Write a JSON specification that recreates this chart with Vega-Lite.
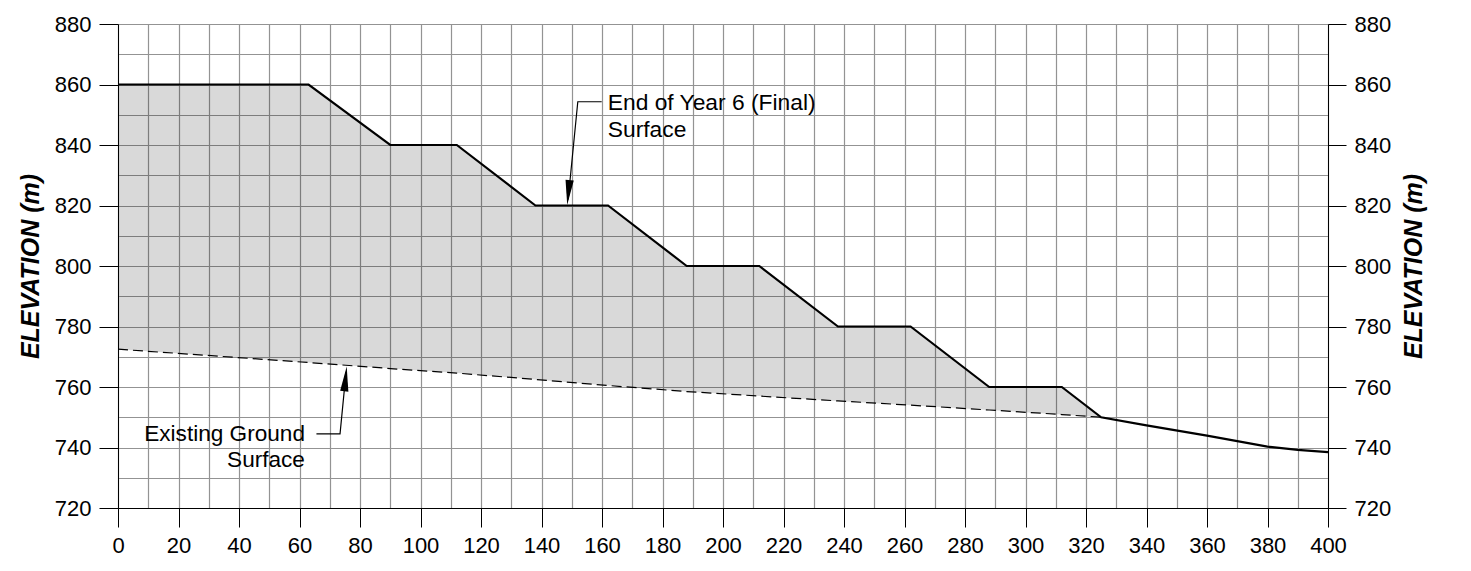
{
  "$schema": "https://vega.github.io/schema/vega-lite/v6.json",
  "width": 1210,
  "height": 484,
  "autosize": {"type": "none"},
  "padding": {"left": 118, "top": 24, "right": 143, "bottom": 63},
  "background": "white",
  "config": {
    "view": {"stroke": null},
    "font": "Liberation Sans",
    "axis": {
      "labelFont": "Liberation Sans",
      "labelFontSize": 22,
      "labelColor": "black",
      "titleFont": "Liberation Sans",
      "titleFontSize": 25,
      "titleFontWeight": "bold",
      "titleFontStyle": "italic",
      "titleColor": "black",
      "domainColor": "black",
      "domainWidth": 1,
      "tickColor": "black",
      "tickWidth": 1,
      "labelFlush": false,
      "labelBound": false,
      "labelOverlap": false
    }
  },
  "datasets": {
    "fill": [
      {"x": 0, "top": 860, "ground": 772.5},
      {"x": 63, "top": 860, "ground": 768.1},
      {"x": 90, "top": 840, "ground": 766.1},
      {"x": 112, "top": 840, "ground": 764.6},
      {"x": 138, "top": 820, "ground": 762.5},
      {"x": 162, "top": 820, "ground": 760.5},
      {"x": 188, "top": 800, "ground": 758.5},
      {"x": 212, "top": 800, "ground": 757.0},
      {"x": 238, "top": 780, "ground": 755.4},
      {"x": 262, "top": 780, "ground": 754.0},
      {"x": 288, "top": 760, "ground": 752.4},
      {"x": 312, "top": 760, "ground": 750.9},
      {"x": 325, "top": 750, "ground": 750.0}
    ],
    "final": [
      {"x": 0, "elev": 860},
      {"x": 63, "elev": 860},
      {"x": 90, "elev": 840},
      {"x": 112, "elev": 840},
      {"x": 138, "elev": 820},
      {"x": 162, "elev": 820},
      {"x": 188, "elev": 800},
      {"x": 212, "elev": 800},
      {"x": 238, "elev": 780},
      {"x": 262, "elev": 780},
      {"x": 288, "elev": 760},
      {"x": 312, "elev": 760},
      {"x": 325, "elev": 750},
      {"x": 340, "elev": 747.3},
      {"x": 360, "elev": 743.9},
      {"x": 380, "elev": 740.3},
      {"x": 390, "elev": 739.2},
      {"x": 400, "elev": 738.5}
    ],
    "leaders": [
      {"id": "final", "k": 1, "x": 159.9, "y": 854.3},
      {"id": "final", "k": 2, "x": 152.0, "y": 854.3},
      {"id": "final", "k": 3, "x": 148.8, "y": 822},
      {"id": "ground", "k": 1, "x": 65.6, "y": 744.5},
      {"id": "ground", "k": 2, "x": 73.4, "y": 744.5},
      {"id": "ground", "k": 3, "x": 75.4, "y": 765}
    ],
    "arrows": [
      {"id": "final", "x": 148.9, "y": 824.3},
      {"id": "ground", "x": 75.2, "y": 762.7}
    ],
    "labels": [
      {"text": "End of Year 6 (Final)", "x": 161.9, "y": 851.6, "side": "left"},
      {"text": "Surface", "x": 161.9, "y": 842.8, "side": "left"},
      {"text": "Existing Ground", "x": 61.8, "y": 742.2, "side": "right"},
      {"text": "Surface", "x": 61.8, "y": 733.6, "side": "right"}
    ]
  },
  "resolve": {"axis": {"y": "independent"}},
  "encoding": {
    "x": {
      "field": "x", "type": "quantitative",
      "scale": {"domain": [0, 400], "nice": false, "zero": false},
      "axis": {
        "orient": "bottom",
        "title": null,
        "values": [0,10,20,30,40,50,60,70,80,90,100,110,120,130,140,150,160,170,180,190,200,210,220,230,240,250,260,270,280,290,300,310,320,330,340,350,360,370,380,390,400],
        "labelExpr": "datum.value % 20 === 0 ? datum.label : ''",
        "tickOpacity": {"condition": {"test": "datum.value % 20 === 0", "value": 1}, "value": 0},
        "tickSize": 19,
        "labelPadding": 8,
        "grid": true,
        "gridColor": "#939393",
        "gridWidth": 1.2
      }
    }
  },
  "layer": [
    {
      "data": {"name": "fill"},
      "mark": {"type": "area", "color": "black", "opacity": 0.15},
      "encoding": {
        "y": {
          "field": "top", "type": "quantitative",
          "scale": {"domain": [720, 880], "nice": false, "zero": false},
          "axis": {
            "orient": "left",
            "title": "ELEVATION (m)",
            "values": [720,730,740,750,760,770,780,790,800,810,820,830,840,850,860,870,880],
            "labelExpr": "datum.value % 20 === 0 ? datum.label : ''",
            "tickOpacity": {"condition": {"test": "datum.value % 20 === 0", "value": 1}, "value": 0},
            "tickSize": 19,
            "labelPadding": 8,
            "titlePadding": 11,
            "grid": true,
            "gridColor": "#939393",
            "gridWidth": 1.2
          }
        },
        "y2": {"field": "ground"}
      }
    },
    {
      "data": {"name": "fill"},
      "mark": {"type": "line", "color": "black", "strokeWidth": 1.2, "strokeDash": [10, 5]},
      "encoding": {
        "y": {"field": "ground", "type": "quantitative", "axis": null}
      }
    },
    {
      "data": {"name": "final"},
      "mark": {"type": "line", "color": "black", "strokeWidth": 2.2, "interpolate": "linear"},
      "encoding": {
        "y": {
          "field": "elev", "type": "quantitative",
          "axis": {
            "orient": "right",
            "title": "ELEVATION (m)",
            "titleAngle": -90,
            "titleBaseline": "top",
            "values": [720,740,760,780,800,820,840,860,880],
            "tickSize": 18,
            "labelPadding": 8,
            "titlePadding": 11,
            "grid": false
          }
        }
      }
    },
    {
      "data": {"name": "leaders"},
      "mark": {"type": "line", "color": "black", "strokeWidth": 1.2},
      "encoding": {
        "y": {"field": "y", "type": "quantitative", "axis": null},
        "detail": {"field": "id"},
        "order": {"field": "k"}
      }
    },
    {
      "data": {"name": "arrows"},
      "transform": [{"filter": "datum.id === 'final'"}],
      "mark": {"type": "point", "shape": "M-0.33,-1L0.33,-1L0,1Z", "size": 625, "filled": true, "color": "black", "opacity": 1, "angle": 5.6},
      "encoding": {
        "y": {"field": "y", "type": "quantitative", "axis": null}
      }
    },
    {
      "data": {"name": "arrows"},
      "transform": [{"filter": "datum.id === 'ground'"}],
      "mark": {"type": "point", "shape": "M-0.33,-1L0.33,-1L0,1Z", "size": 625, "filled": true, "color": "black", "opacity": 1, "angle": 185.6},
      "encoding": {
        "y": {"field": "y", "type": "quantitative", "axis": null}
      }
    },
    {
      "data": {"name": "labels"},
      "transform": [{"filter": "datum.side === 'left'"}],
      "mark": {"type": "text", "align": "left", "baseline": "alphabetic", "font": "Liberation Sans", "fontSize": 22.8, "color": "black"},
      "encoding": {
        "y": {"field": "y", "type": "quantitative", "axis": null},
        "text": {"field": "text"}
      }
    },
    {
      "data": {"name": "labels"},
      "transform": [{"filter": "datum.side === 'right'"}],
      "mark": {"type": "text", "align": "right", "baseline": "alphabetic", "font": "Liberation Sans", "fontSize": 22.6, "color": "black"},
      "encoding": {
        "y": {"field": "y", "type": "quantitative", "axis": null},
        "text": {"field": "text"}
      }
    }
  ]
}
